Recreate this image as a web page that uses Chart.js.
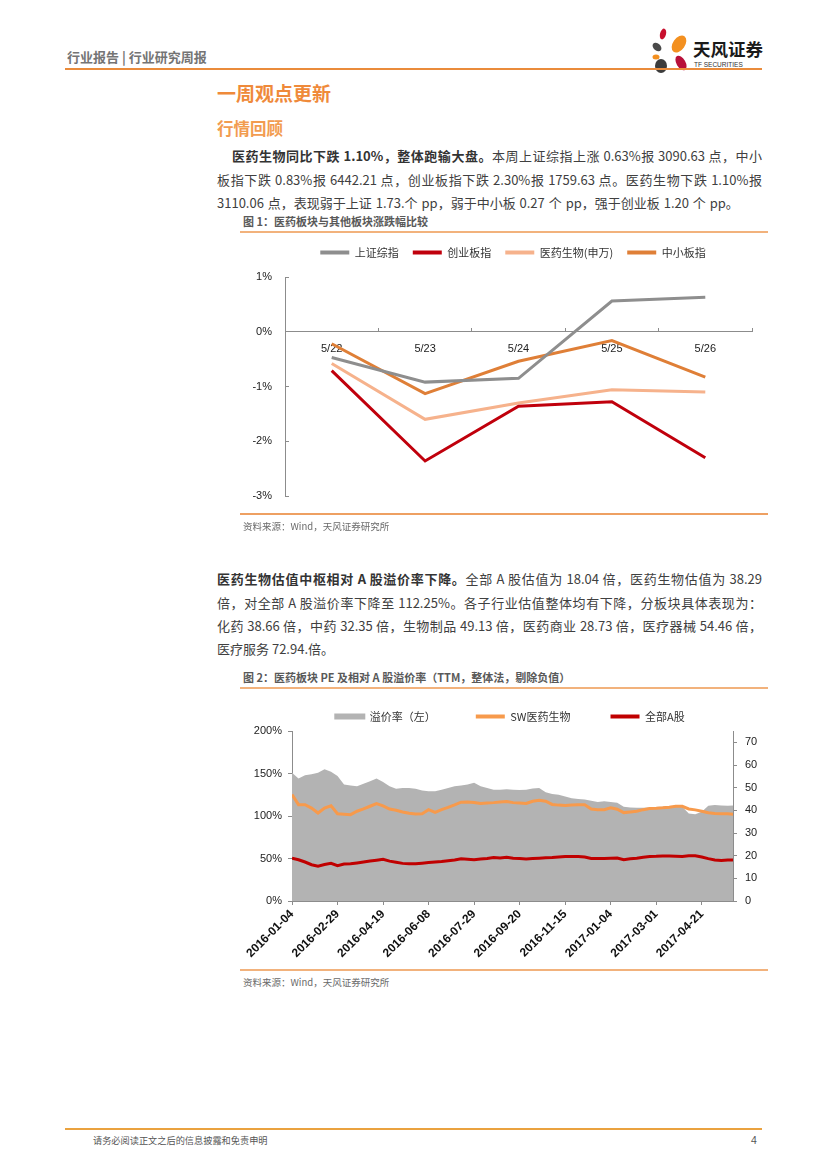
<!DOCTYPE html>
<html><head><meta charset="utf-8">
<script src="https://cdn.jsdelivr.net/npm/chart.js@4.4.1/dist/chart.umd.min.js"></script>
<style>
body{margin:0;background:#fff;}
#page{position:relative;width:827px;height:1169px;overflow:hidden;font-family:"Noto Sans CJK SC","Noto Sans",sans-serif;color:#404040;background:#fff;}
.abs{position:absolute;white-space:nowrap;}
.rule{position:absolute;}
.para{position:absolute;left:217px;width:545px;font-size:13px;line-height:20px;color:#404040;white-space:nowrap;}
.just{text-align:justify;text-align-last:justify;white-space:normal;}
.para b{color:#333;}
.cap{position:absolute;left:243px;font-size:11px;line-height:14px;font-weight:bold;color:#595959;white-space:nowrap;}
.src{position:absolute;left:243px;font-size:9.5px;line-height:14px;color:#6a6a6a;white-space:nowrap;}
.box{position:absolute;}
</style></head>
<body>
<div id="page">
  <div class="abs" style="left:67px;top:49px;font-size:13px;line-height:16px;color:#747474;font-weight:bold;">行业报告 | 行业研究周报</div>
  <svg class="abs" style="left:645px;top:25px;" width="125" height="50" viewBox="0 0 125 50">
    <ellipse cx="18" cy="9" rx="3" ry="5.5" fill="#c8102e" transform="rotate(15 18 9)"/>
    <ellipse cx="12" cy="22" rx="3.5" ry="5" fill="#4a4a4a" transform="rotate(-50 12 22)"/>
    <ellipse cx="34" cy="19" rx="6" ry="9.5" fill="#f39020" transform="rotate(35 34 19)"/>
    <ellipse cx="11" cy="32" rx="3.5" ry="2.5" fill="#f39020"/>
    <ellipse cx="36" cy="38" rx="4.5" ry="8" fill="#b8103a" transform="rotate(-30 36 38)"/>
    <ellipse cx="16" cy="41" rx="6" ry="7" fill="#3c3c3c"/>
    <text x="48" y="31" font-size="17.5" font-weight="bold" fill="#1a1a1a" font-family="Noto Sans CJK SC">天风证券</text>
    <text x="49" y="42" font-size="6.5" fill="#333" font-family="Liberation Sans">TF SECURITIES</text>
  </svg>
  <div class="rule" style="left:65px;top:68px;width:697px;height:2px;background:#ea8b3b;"></div>

  <div class="abs" style="left:217px;top:81px;font-size:19px;line-height:24px;font-weight:bold;color:#ef8a3a;">一周观点更新</div>
  <div class="abs" style="left:217px;top:117px;font-size:16.5px;line-height:22px;font-weight:bold;color:#f29c50;">行情回顾</div>

  <div class="para just" style="top:146px;left:232px;width:530px;"><b>医药生物同比下跌 1.10%，整体跑输大盘。</b>本周上证综指上涨 0.63%报 3090.63 点，中小</div>
  <div class="para just" style="top:170px;">板指下跌 0.83%报 6442.21 点，创业板指下跌 2.30%报 1759.63 点。医药生物下跌 1.10%报</div>
  <div class="para" style="top:193px;word-spacing:1px;">3110.06 点，表现弱于上证 1.73.个 pp，弱于中小板 0.27 个 pp，强于创业板 1.20 个 pp。</div>

  <div class="cap" style="top:214px;">图 1：医药板块与其他板块涨跌幅比较</div>
  <div class="rule" style="left:240px;top:231px;width:528px;height:1.5px;background:#f2b27c;"></div>
  <div class="box" style="left:240px;top:233px;width:528px;height:293px;"><canvas id="c1"></canvas></div>
  <div class="rule" style="left:240px;top:513px;width:528px;height:1.5px;background:#eea062;"></div>
  <div class="src" style="top:519px;">资料来源：Wind，天风证券研究所</div>

  <div class="para just" style="top:569px;"><b>医药生物估值中枢相对 A 股溢价率下降。</b>全部 A 股估值为 18.04 倍，医药生物估值为 38.29</div>
  <div class="para just" style="top:593px;">倍，对全部 A 股溢价率下降至 112.25%。各子行业估值整体均有下降，分板块具体表现为：</div>
  <div class="para just" style="top:616px;">化药 38.66 倍，中药 32.35 倍，生物制品 49.13 倍，医药商业 28.73 倍，医疗器械 54.46 倍，</div>
  <div class="para" style="top:639px;">医疗服务 72.94.倍。</div>

  <div class="cap" style="top:670px;">图 2：医药板块 PE 及相对 A 股溢价率（TTM，整体法，剔除负值）</div>
  <div class="rule" style="left:240px;top:687px;width:528px;height:1.5px;background:#f2b27c;"></div>
  <div class="box" style="left:240px;top:671px;width:528px;height:297px;"><canvas id="c2"></canvas></div>
  <div class="rule" style="left:240px;top:969px;width:528px;height:1.5px;background:#f2b27c;"></div>
  <div class="src" style="top:975px;">资料来源：Wind，天风证券研究所</div>

  <div class="rule" style="left:65px;top:1128px;width:697px;height:2px;background:#eaa23f;"></div>
  <div class="abs" style="left:93px;top:1133px;font-size:9.2px;line-height:14px;color:#555;">请务必阅读正文之后的信息披露和免责申明</div>
  <div class="abs" style="left:751px;top:1133px;font-size:10.5px;line-height:14px;color:#555;font-family:'Liberation Sans';">4</div>
</div>

<script>
// ---------- Chart 1 data ----------
const weekDays = ['5/22', '5/23', '5/24', '5/25', '5/26'];
const shComposite = [-0.47, -0.92, -0.85, 0.56, 0.63];   // 上证综指
const chiNext     = [-0.71, -2.36, -1.36, -1.28, -2.30]; // 创业板指
const swPharma    = [-0.58, -1.60, -1.30, -1.06, -1.10]; // 医药生物(申万)
const smeIndex    = [-0.22, -1.13, -0.54, -0.16, -0.83]; // 中小板指
const c1Names = ['上证综指', '创业板指', '医药生物(申万)', '中小板指'];
const c1Ticks = [-3, -2, -1, 0, 1];

// ---------- Chart 2 data ----------
const dateLabels = ['2016-01-04', '2016-02-29', '2016-04-19', '2016-06-08', '2016-07-29',
                    '2016-09-20', '2016-11-15', '2017-01-04', '2017-03-01', '2017-04-21'];
const dateLabelDay = [0, 35, 70, 105, 140, 175, 210, 245, 280, 315];
const premiumTicks = [0, 50, 100, 150, 200];
const peTicks = [0, 10, 20, 30, 40, 50, 60, 70];
const tradingDay = [0, 5, 10, 15, 20, 25, 30, 35, 40, 45, 50, 55, 60, 65, 70, 75, 80, 85, 90, 95,
  100, 105, 110, 115, 120, 125, 130, 135, 140, 145, 150, 155, 160, 165, 170, 175, 180, 185, 190, 195,
  200, 205, 210, 215, 220, 225, 230, 235, 240, 245, 250, 255, 260, 265, 270, 275, 280, 285, 290, 295,
  300, 305, 310, 315, 320, 325, 330, 335, 339];
const premium = [151, 144, 148, 149, 151, 155, 152, 147, 137, 136, 135, 138, 141, 144, 140, 135, 132, 133, 133, 132,
  130, 129, 129, 131, 133, 135, 136, 137, 139, 135, 133, 131, 131, 131.5, 131, 130.5, 131, 132.5, 133, 128,
  126, 125, 123, 121, 120, 119.5, 118, 116.5, 117.5, 116.5, 115.6, 111, 110, 109.7, 109.7, 110, 110.5, 111, 111.5, 112,
  111, 103, 102, 105, 112, 113, 112.5, 112, 112.25];
const swPE = [47.0, 42.5, 42.5, 41.0, 38.8, 41.0, 42.0, 38.5, 38.3, 38.1, 39.6, 40.6, 41.8, 43.0, 42.0, 40.6, 40.0, 39.3, 38.7, 38.4,
  38.5, 40.3, 39.1, 40.3, 41.3, 42.4, 43.6, 43.7, 43.5, 43.0, 43.2, 43.4, 43.7, 43.9, 43.4, 43.2, 43.0, 44.0, 44.4, 44.0,
  42.6, 42.3, 42.1, 42.4, 42.5, 42.5, 40.6, 40.3, 40.3, 41.1, 40.5, 39.0, 39.3, 39.6, 40.3, 40.8, 40.9, 41.1, 41.4, 41.8,
  41.8, 40.6, 40.2, 39.6, 38.9, 38.6, 38.5, 38.5, 38.29];
const allAPE = [18.9, 18.2, 17.2, 16.0, 15.4, 16.1, 16.6, 15.6, 16.3, 16.4, 16.8, 17.2, 17.6, 18.0, 18.4, 17.6, 17.1, 16.6, 16.4, 16.4,
  16.7, 17.0, 17.2, 17.4, 17.8, 18.1, 18.6, 18.4, 18.2, 18.5, 18.8, 19.2, 19.0, 19.3, 18.9, 18.7, 18.5, 18.7, 18.9, 19.1,
  19.2, 19.4, 19.6, 19.6, 19.6, 19.4, 18.8, 18.8, 18.8, 18.9, 19.0, 18.2, 18.6, 18.9, 19.3, 19.6, 19.7, 19.9, 19.8, 19.7,
  19.6, 20.0, 20.0, 19.4, 18.7, 18.1, 17.9, 18.1, 18.04];
const c2Names = ['溢价率（左）', 'SW医药生物', '全部A股'];

// ---------- helpers ----------
Chart.defaults.font.family = "'Liberation Sans', Arial, sans-serif";
Chart.defaults.animation = false;
function legendBox(h, shift) {
  return { id: 'legendBox',
    beforeInit(chart) {
      const lg = chart.legend; const f = lg.fit;
      lg.fit = function () { f.call(lg); lg.height = h; };
    },
    afterLayout(chart) { const lg = chart.legend; lg.left += shift; lg.right += shift; }
  };
}
function legendItems(chart) {
  const items = Chart.defaults.plugins.legend.labels.generateLabels(chart);
  items.forEach(it => {
    const ds = chart.data.datasets[it.datasetIndex];
    if (ds.fill) { it.fillStyle = ds.backgroundColor; it.strokeStyle = ds.backgroundColor; it.lineWidth = 2; }
    else { it.fillStyle = ds.borderColor; it.lineWidth = 0; }
  });
  return items;
}
const fixTicks = arr => (s => { s.ticks = arr.map(v => ({ value: v })); });
const axisGray = '#8c8c8c';
const cjk = "'Noto Sans CJK SC', sans-serif";

// ---------- Chart 1 ----------
new Chart(document.getElementById('c1'), {
  type: 'line',
  data: {
    labels: weekDays,
    datasets: [
      { label: c1Names[0], data: shComposite, borderColor: '#8e8e8e', backgroundColor: '#8e8e8e' },
      { label: c1Names[1], data: chiNext, borderColor: '#c0000c', backgroundColor: '#c0000c' },
      { label: c1Names[2], data: swPharma, borderColor: '#f6b28c', backgroundColor: '#f6b28c' },
      { label: c1Names[3], data: smeIndex, borderColor: '#df7f37', backgroundColor: '#df7f37' }
    ].map(d => Object.assign(d, { borderWidth: 3, pointRadius: 0, tension: 0, fill: false }))
  },
  options: {
    responsive: true, maintainAspectRatio: false,
    layout: { padding: { left: 0, right: 16, top: 0, bottom: 30 } },
    plugins: {
      tooltip: { enabled: false },
      legend: { position: 'top', labels: { boxWidth: 29, boxHeight: 4, padding: 14, color: '#333',
        font: { size: 11, family: cjk }, generateLabels: legendItems } }
    },
    scales: {
      x: { type: 'category', position: { y: 0 }, offset: true,
        grid: { display: true, drawOnChartArea: false, offset: true, tickLength: -4, color: axisGray },
        border: { color: axisGray },
        ticks: { color: '#222', font: { size: 11 }, padding: 15, maxRotation: 0 } },
      y: { min: -3, max: 1,
        grid: { display: true, drawOnChartArea: false, tickLength: -4, color: axisGray },
        border: { color: axisGray },
        afterBuildTicks: fixTicks(c1Ticks),
        ticks: { color: '#222', font: { size: 11 }, padding: 17, callback: v => v + '%' },
        afterFit(s) { s.width = 45; } }
    }
  },
  plugins: [legendBox(44, 17)]
});

// ---------- Chart 2 ----------
const toXY = arr => arr.map((v, i) => ({ x: tradingDay[i], y: v }));
const legendRank = [1, 2, 0];
new Chart(document.getElementById('c2'), {
  type: 'line',
  data: {
    datasets: [
      { label: c2Names[1], data: toXY(swPE), yAxisID: 'yR', borderColor: '#f79a4c', backgroundColor: '#f79a4c', borderWidth: 3, fill: false },
      { label: c2Names[2], data: toXY(allAPE), yAxisID: 'yR', borderColor: '#c00000', backgroundColor: '#c00000', borderWidth: 3, fill: false },
      { label: c2Names[0], data: toXY(premium), yAxisID: 'yL', borderColor: '#b3b3b3', backgroundColor: '#b3b3b3', borderWidth: 0, fill: 'origin' }
    ].map(d => Object.assign(d, { pointRadius: 0, tension: 0 }))
  },
  options: {
    responsive: true, maintainAspectRatio: false,
    layout: { padding: { left: 12, right: 0, top: 0, bottom: 0 } },
    plugins: {
      tooltip: { enabled: false },
      legend: { position: 'top', labels: { boxWidth: 29, boxHeight: 4, padding: 40, color: '#333',
        font: { size: 11, family: cjk }, generateLabels: legendItems,
        sort: (a, b) => legendRank[a.datasetIndex] - legendRank[b.datasetIndex] } }
    },
    scales: {
      x: { type: 'linear', min: 0, max: 339,
        grid: { display: true, drawOnChartArea: false, tickLength: 4, color: axisGray },
        border: { color: axisGray },
        afterBuildTicks: fixTicks(dateLabelDay),
        ticks: { autoSkip: false, minRotation: 45, maxRotation: 45, color: '#111', padding: 2,
          font: { size: 12, weight: 'bold' },
          callback: v => { const k = dateLabelDay.indexOf(v); return k >= 0 ? dateLabels[k] : ''; } },
        afterFit(s) { s.height = 67; } },
      yL: { position: 'left', min: 0, max: 200,
        grid: { display: true, drawOnChartArea: false, tickLength: 4, color: axisGray },
        border: { color: axisGray },
        afterBuildTicks: fixTicks(premiumTicks),
        ticks: { color: '#222', font: { size: 11 }, padding: 6, callback: v => v + '%' },
        afterFit(s) { s.width = 40; } },
      yR: { position: 'right', min: 0, max: 75,
        grid: { display: true, drawOnChartArea: false, tickLength: 4, color: axisGray },
        border: { color: axisGray },
        afterBuildTicks: fixTicks(peTicks),
        ticks: { color: '#222', font: { size: 11 }, padding: 8 },
        afterFit(s) { s.width = 35; } }
    }
  },
  plugins: [legendBox(60, 0)]
});
</script>
</body></html>
